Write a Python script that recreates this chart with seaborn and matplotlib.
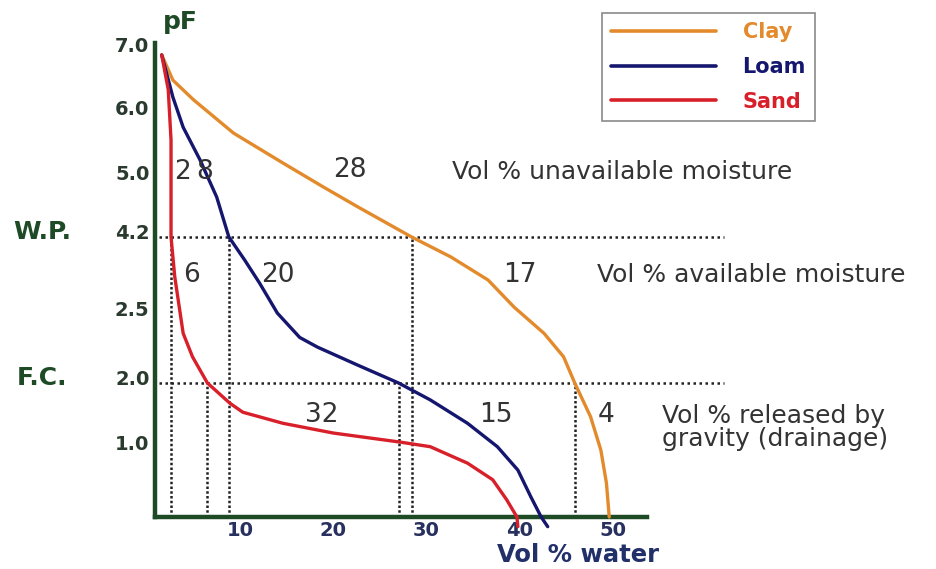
import numpy as np
import pandas as pd
import matplotlib
matplotlib.use("Agg")
import matplotlib.pyplot as plt
import matplotlib.transforms as mtransforms
import seaborn as sns

# moisture characteristic curves (vol % water vs pF)
clay_water = [1.6, 2.8, 5.0, 9.3, 14.6, 18.9, 22.6, 28.4, 32.6, 36.6, 39.4, 42.6, 44.7, 45.9, 47.6, 48.7, 49.3, 49.6]
clay_pf = [6.92, 6.52, 6.21, 5.69, 5.23, 4.88, 4.61, 4.2, 3.76, 3.25, 2.65, 2.36, 2.19, 2.0, 1.48, 0.97, 0.49, 0.0]

loam_water = [1.6, 2.8, 3.9, 5.7, 7.5, 8.8, 10.5, 12.1, 14.0, 16.4, 18.3, 22.6, 27.0, 30.4, 34.4, 37.6, 39.8, 41.2, 42.3, 43.0]
loam_pf = [6.92, 6.25, 5.78, 5.28, 4.74, 4.2, 3.69, 3.18, 2.52, 2.33, 2.26, 2.13, 2.0, 1.74, 1.38, 1.02, 0.68, 0.29, 0.0, -0.14]

sand_water = [1.6, 2.3, 2.6, 2.6, 3.0, 3.9, 4.9, 6.5, 8.9, 10.3, 14.6, 20.0, 27.2, 30.4, 34.4, 37.1, 38.6, 39.7, 39.8]
sand_pf = [6.92, 6.37, 5.58, 4.2, 3.32, 2.36, 2.19, 2.0, 1.69, 1.55, 1.38, 1.23, 1.09, 1.02, 0.78, 0.54, 0.25, 0.0, -0.14]

soils = ["Clay", "Loam", "Sand"]
soil_colors = ["#E38B2C", "#15166E", "#D8202A"]

# water content at wilting point (pF 4.2) and field capacity (pF 2.0)
wp_water = [2.6, 8.8, 28.4]
fc_water = [6.5, 27.0, 45.9]

y_ticks = [7.0, 6.0, 5.0, 4.2, 2.5, 2.0, 1.0]
y_tick_labels = ["7.0", "6.0", "5.0", "4.2", "2.5", "2.0", "1.0"]
x_ticks = [10, 20, 30, 40, 50]

# numbers of vol % in each zone
zone_numbers = ["2", "8", "28", "6", "20", "17", "32", "15", "4"]
zone_texts = ["Vol % unavailable moisture", "Vol % available moisture",
              "Vol % released by\ngravity (drainage)"]

# schematic, non-linear pF axis
PF_KNOTS = np.array([0.0, 1.0, 2.0, 2.5, 4.2, 5.0, 6.0, 7.0])
POS_KNOTS = np.array([0.0, 69.0, 134.0, 203.0, 280.0, 339.0, 404.0, 467.0])


def pf_forward(v):
    v = np.asarray(v, dtype=float)
    out = np.interp(v, PF_KNOTS, POS_KNOTS)
    out = np.where(v < 0, v * 69.0, out)
    out = np.where(v > 7, 467.0 + (v - 7) * 63.0, out)
    return out


def pf_inverse(p):
    p = np.asarray(p, dtype=float)
    out = np.interp(p, POS_KNOTS, PF_KNOTS)
    out = np.where(p < 0, p / 69.0, out)
    out = np.where(p > 467, 7 + (p - 467) / 63.0, out)
    return out


frames = []
for name, w, pf in zip(soils, [clay_water, loam_water, sand_water], [clay_pf, loam_pf, sand_pf]):
    frames.append(pd.DataFrame({"water": w, "pF": pf, "soil": name}))
df = pd.concat(frames, ignore_index=True)

sns.set_theme(style="white")
plt.rcParams["font.family"] = ["DejaVu Sans"]

GREEN = "#1E4A26"
fig = plt.figure(figsize=(9.37, 5.69), dpi=100)
ax = fig.add_axes([155 / 937, 1 - 517 / 569, 492 / 937, 474 / 569])
ax.set_yscale("function", functions=(pf_forward, pf_inverse))

sns.lineplot(data=df, x="water", y="pF", hue="soil", hue_order=soils,
             palette=dict(zip(soils, soil_colors)), sort=False, estimator=None,
             linewidth=2.4, ax=ax, legend=False, zorder=3)
for ln in ax.lines:
    ln.set_clip_on(False)
    ln.set_solid_joinstyle("round")

ax.set_xlim(0.88, 53.65)
ax.set_ylim(0, 7.11)

# dotted guide lines
x_right = 61.9
for lvl, xs in [(4.2, wp_water), (2.0, fc_water)]:
    ax.plot([1.3, x_right], [lvl, lvl], color="#222222", lw=1.8,
            linestyle=(0, (1, 1.4)), clip_on=False, zorder=2)
    for xv in xs:
        ax.plot([xv, xv], [0, lvl], color="#222222", lw=1.8,
                linestyle=(0, (1, 0.9)), zorder=2)

# axes styling
for side in ["top", "right"]:
    ax.spines[side].set_visible(False)
for side in ["left", "bottom"]:
    ax.spines[side].set_color(GREEN)
    ax.spines[side].set_linewidth(3.2)
ax.set_yticks(y_ticks)
ax.set_yticklabels(y_tick_labels)
ax.set_xticks(x_ticks)
ax.tick_params(axis="y", direction="in", length=15, width=1, color="#9a9a9a",
               pad=4, labelsize=14, labelcolor="#2A3A2E")
ax.tick_params(axis="x", direction="in", length=11, width=1, color="#9a9a9a",
               pad=3, labelsize=14, labelcolor="#27305E")
up = mtransforms.ScaledTranslation(0, 5 / 100, fig.dpi_scale_trans)
for lab in ax.get_yticklabels():
    lab.set_fontweight("bold")
    lab.set_transform(lab.get_transform() + up)
for lab in ax.get_xticklabels():
    lab.set_fontweight("bold")
ax.set_xlabel("")
ax.set_ylabel("")
ax.minorticks_off()

# zone numbers
num_pos = [(3.8, 5.09), (6.25, 5.09), (21.8, 5.12),
           (4.75, 3.36), (14.1, 3.36), (40.0, 3.36),
           (18.8, 1.51), (37.4, 1.51), (49.3, 1.51)]
for txt, (xv, yv) in zip(zone_numbers, num_pos):
    ax.text(xv, yv, txt, ha="center", va="center", fontsize=19, color="#333333")

text_pos = [(32.7, 5.09), (48.3, 3.36), (55.3, 1.32)]
for txt, (xv, yv) in zip(zone_texts, text_pos):
    ax.text(xv, yv, txt, ha="left", va="center", fontsize=18, color="#333333",
            linespacing=0.95, clip_on=False)

# axis titles and level names
blend = mtransforms.blended_transform_factory(fig.transFigure, ax.transData)
ax.text(13 / 937, 4.2, "W.P.", transform=blend + up, ha="left", va="center",
        fontsize=18, fontweight="bold", color=GREEN)
ax.text(17 / 937, 2.0, "F.C.", transform=blend + up, ha="left", va="center",
        fontsize=18, fontweight="bold", color=GREEN)
fig.text(163 / 937, 1 - 22 / 569, "pF", ha="left", va="center",
         fontsize=18, fontweight="bold", color=GREEN)
fig.text(497 / 937, 1 - 555 / 569, "Vol % water", ha="left", va="center",
         fontsize=17.5, fontweight="bold", color="#22306A")

# legend
handles = [plt.Line2D([], [], color=c, lw=2.6) for c in soil_colors]
leg = fig.legend(handles, soils, loc="upper left",
                 bbox_to_anchor=(602 / 937, 1 - 13 / 569), fontsize=15,
                 handlelength=5.0, handletextpad=1.3, labelspacing=0.7,
                 fancybox=False, framealpha=1, edgecolor="#8a8a8a",
                 borderpad=0.45, borderaxespad=0)
leg.get_frame().set_linewidth(1.2)
for t, c in zip(leg.get_texts(), soil_colors):
    t.set_color(c)
    t.set_fontweight("bold")

fig.savefig("out.png", dpi=100)
